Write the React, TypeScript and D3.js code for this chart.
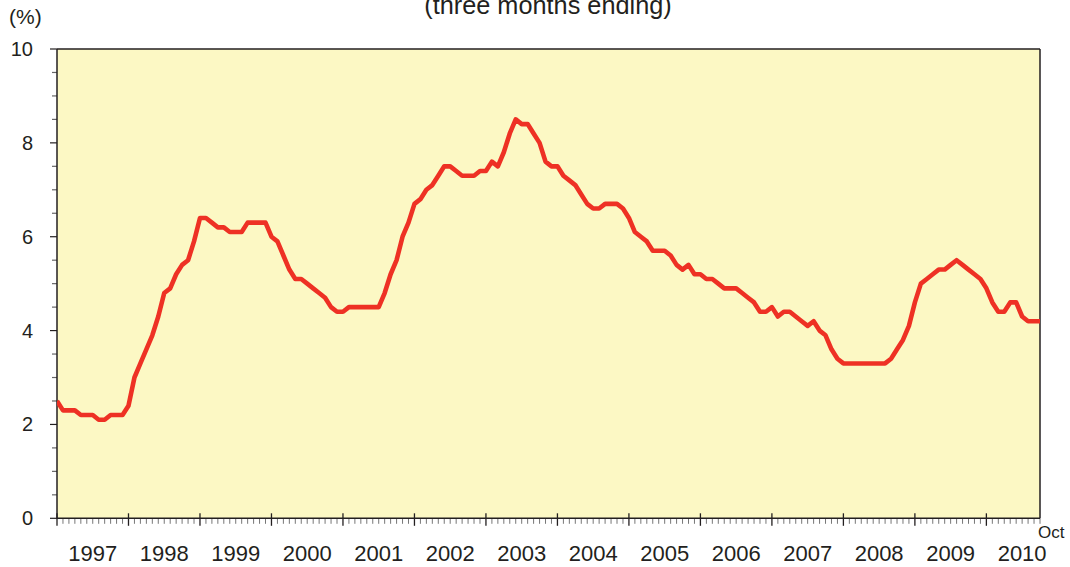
import * as d3 from "d3";

// monthly values, three months ending, Jan 1997 .. Oct 2010
const rate1997 = [2.5, 2.3, 2.3, 2.3, 2.2, 2.2, 2.2, 2.1, 2.1, 2.2, 2.2, 2.2];
const rate1998 = [2.4, 3.0, 3.3, 3.6, 3.9, 4.3, 4.8, 4.9, 5.2, 5.4, 5.5, 5.9];
const rate1999 = [6.4, 6.4, 6.3, 6.2, 6.2, 6.1, 6.1, 6.1, 6.3, 6.3, 6.3, 6.3];
const rate2000 = [6.0, 5.9, 5.6, 5.3, 5.1, 5.1, 5.0, 4.9, 4.8, 4.7, 4.5, 4.4];
const rate2001 = [4.4, 4.5, 4.5, 4.5, 4.5, 4.5, 4.5, 4.8, 5.2, 5.5, 6.0, 6.3];
const rate2002 = [6.7, 6.8, 7.0, 7.1, 7.3, 7.5, 7.5, 7.4, 7.3, 7.3, 7.3, 7.4];
const rate2003 = [7.4, 7.6, 7.5, 7.8, 8.2, 8.5, 8.4, 8.4, 8.2, 8.0, 7.6, 7.5];
const rate2004 = [7.5, 7.3, 7.2, 7.1, 6.9, 6.7, 6.6, 6.6, 6.7, 6.7, 6.7, 6.6];
const rate2005 = [6.4, 6.1, 6.0, 5.9, 5.7, 5.7, 5.7, 5.6, 5.4, 5.3, 5.4, 5.2];
const rate2006 = [5.2, 5.1, 5.1, 5.0, 4.9, 4.9, 4.9, 4.8, 4.7, 4.6, 4.4, 4.4];
const rate2007 = [4.5, 4.3, 4.4, 4.4, 4.3, 4.2, 4.1, 4.2, 4.0, 3.9, 3.6, 3.4];
const rate2008 = [3.3, 3.3, 3.3, 3.3, 3.3, 3.3, 3.3, 3.3, 3.4, 3.6, 3.8, 4.1];
const rate2009 = [4.6, 5.0, 5.1, 5.2, 5.3, 5.3, 5.4, 5.5, 5.4, 5.3, 5.2, 5.1];
const rate2010 = [4.9, 4.6, 4.4, 4.4, 4.6, 4.6, 4.3, 4.2, 4.2, 4.2];

const years = [1997, 1998, 1999, 2000, 2001, 2002, 2003, 2004, 2005, 2006, 2007, 2008, 2009, 2010];
const yTickLabels = [0, 2, 4, 6, 8, 10];

const rates = [
  ...rate1997, ...rate1998, ...rate1999, ...rate2000, ...rate2001, ...rate2002, ...rate2003,
  ...rate2004, ...rate2005, ...rate2006, ...rate2007, ...rate2008, ...rate2009, ...rate2010,
];

const WIDTH = 1070;
const HEIGHT = 567;
const PLOT = { left: 57, right: 1040, top: 49, bottom: 518.3 };
const FONT = "'Liberation Sans', Arial, sans-serif";
const AXIS = "#231f20";

export default function App() {
  const xScale = d3.scaleLinear()
    .domain([0, rates.length - 1])
    .range([PLOT.left, PLOT.right]);

  const yScale = d3.scaleLinear()
    .domain([0, 10])
    .range([PLOT.bottom, PLOT.top]);

  const path = d3.line<number>()
    .x((_, i) => xScale(i))
    .y(d => yScale(d))(rates);

  const monthTicks = d3.range(0, rates.length);
  const halfTicks = d3.range(0, 10.01, 0.5);

  return (
    <svg
      width={WIDTH}
      height={HEIGHT}
      style={{ position: "absolute", left: 0, top: 0, fontFamily: FONT }}
    >
      <defs>
        <clipPath id="plotClip">
          <rect
            x={PLOT.left}
            y={PLOT.top}
            width={PLOT.right - PLOT.left}
            height={PLOT.bottom - PLOT.top}
          />
        </clipPath>
      </defs>

      <rect
        x={PLOT.left}
        y={PLOT.top}
        width={PLOT.right - PLOT.left}
        height={PLOT.bottom - PLOT.top}
        fill="#fcf8c4"
      />

      {/* title is cut at the top edge, as in the source */}
      <text x={548} y={13.5} textAnchor="middle" fontSize={25.3} fill="#231f20">
        (three months ending)
      </text>
      <text x={9} y={24} fontSize={21} fill="#231f20">(%)</text>

      {/* y axis ticks */}
      {halfTicks.map(v => {
        const major = yTickLabels.includes(v);
        return (
          <line
            key={"y" + v}
            x1={major ? PLOT.left - 7 : PLOT.left - 5}
            x2={PLOT.left}
            y1={yScale(v)}
            y2={yScale(v)}
            stroke={major ? AXIS : "#666"}
            strokeWidth={1.2}
          />
        );
      })}
      {yTickLabels.map(v => (
        <text
          key={"yl" + v}
          x={33}
          y={yScale(v)}
          textAnchor="end"
          dominantBaseline="central"
          fontSize={20}
          fill="#231f20"
        >
          {v}
        </text>
      ))}

      {/* x axis ticks, one per month */}
      {monthTicks.map(i => {
        const major = i % 12 === 0;
        return (
          <line
            key={"x" + i}
            x1={xScale(i)}
            x2={xScale(i)}
            y1={major ? PLOT.bottom - 5 : PLOT.bottom}
            y2={major ? PLOT.bottom + 7.5 : PLOT.bottom + 5.5}
            stroke={major ? AXIS : "#777"}
            strokeWidth={major ? 1.3 : 1}
          />
        );
      })}
      {years.map((y, k) => (
        <text
          key={"xl" + y}
          x={xScale(k * 12 + 6)}
          y={561}
          textAnchor="middle"
          fontSize={22}
          fill="#231f20"
        >
          {y}
        </text>
      ))}
      <text x={1038} y={538} fontSize={17} fill="#231f20">Oct</text>

      {/* frame */}
      <line x1={PLOT.left} x2={PLOT.right} y1={PLOT.top} y2={PLOT.top} stroke={AXIS} strokeWidth={1.5} />
      <line x1={PLOT.right} x2={PLOT.right} y1={PLOT.top} y2={PLOT.bottom} stroke={AXIS} strokeWidth={1.5} />
      <line x1={PLOT.left} x2={PLOT.left} y1={PLOT.top} y2={PLOT.bottom} stroke={AXIS} strokeWidth={1.5} />
      <line x1={PLOT.left} x2={PLOT.right} y1={PLOT.bottom} y2={PLOT.bottom} stroke={AXIS} strokeWidth={1.5} />

      <path
        d={path ?? ""}
        fill="none"
        stroke="#ee3124"
        strokeWidth={4.6}
        strokeLinejoin="round"
        clipPath="url(#plotClip)"
      />
    </svg>
  );
}
